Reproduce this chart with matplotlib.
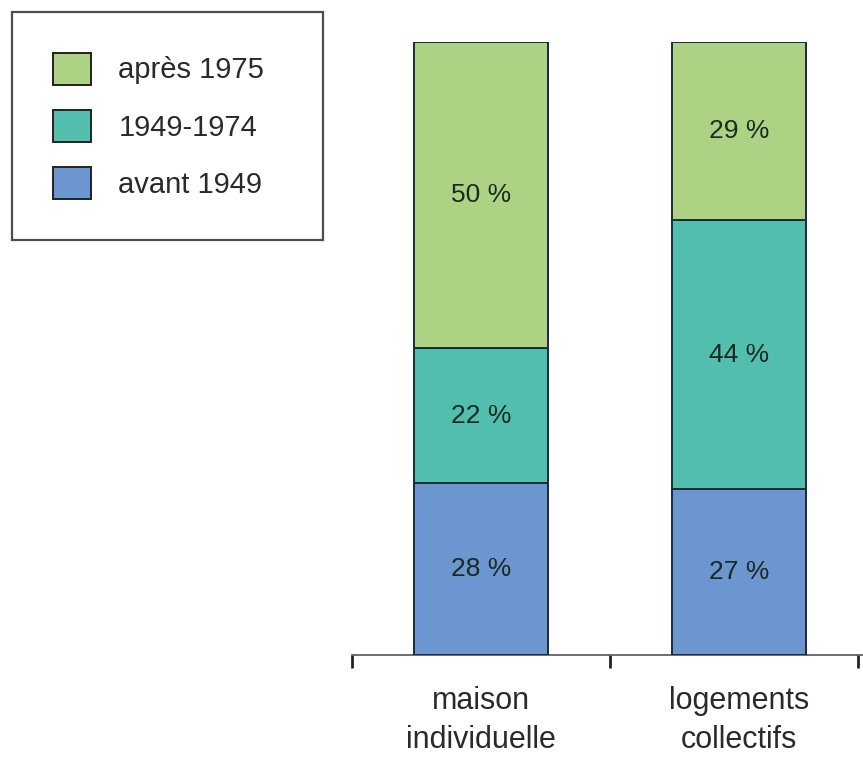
import matplotlib
matplotlib.use("Agg")
import matplotlib.pyplot as plt
from matplotlib.patches import Patch

# data
categories = ["maison\nindividuelle", "logements\ncollectifs"]
periods = ["avant 1949", "1949-1974", "après 1975"]
avant_1949 = [28, 27]
p1949_1974 = [22, 44]
apres_1975 = [50, 29]
colors = ["#6b96d0", "#52bfae", "#aed283"]

plt.rcParams["font.family"] = ["Liberation Sans", "DejaVu Sans"]

fig = plt.figure(figsize=(8.63, 7.62), dpi=100)
ax = fig.add_axes([352 / 863, 1 - 655 / 762, 511 / 863, 613 / 762])

x = [0.5, 1.5]
series = [avant_1949, p1949_1974, apres_1975]
bottom = [0, 0]
for vals, col in zip(series, colors):
    bars = ax.bar(x, vals, width=0.516, bottom=bottom, color=col,
                  edgecolor="#1c2b38", linewidth=1.4, zorder=3)
    for b, v in zip(bars, vals):
        ax.text(b.get_x() + b.get_width() / 2, b.get_y() + b.get_height() / 2,
                f"{v} %", ha="center", va="center", fontsize=19,
                color="#1a2a22", zorder=4)
    bottom = [a + b for a, b in zip(bottom, vals)]

ax.set_xlim(0, 511 / 258)
ax.set_ylim(0, 100)
for s in ["top", "right", "left"]:
    ax.spines[s].set_visible(False)
ax.spines["bottom"].set_color("#555555")
ax.spines["bottom"].set_linewidth(1.2)
ax.set_yticks([])

ax.set_xticks([0, 1, 1.96])
ax.set_xticklabels([])
ax.tick_params(axis="x", which="major", length=9, width=2, color="#222222")
ax.set_xticks(x, minor=True)
ax.set_xticklabels(categories, minor=True, fontsize=22, color="#2a2a2a",
                   linespacing=1.4)
ax.tick_params(axis="x", which="minor", length=0, pad=22)

handles = [Patch(facecolor=c, edgecolor="#222222", linewidth=1.4)
           for c in colors[::-1]]
leg = fig.legend(handles, periods[::-1], loc="upper left",
                 bbox_to_anchor=(12 / 863, 1 - 240 / 762, 311 / 863, 228 / 762),
                 mode="expand", borderaxespad=0,
                 fontsize=21, frameon=True, fancybox=False,
                 handlelength=1.3, handleheight=1.3, handletextpad=0.95,
                 labelspacing=0.87, borderpad=1.4)
leg.get_frame().set_edgecolor("#222222")
leg.get_frame().set_linewidth(1.6)
for t in leg.get_texts():
    t.set_color("#2a2a2a")

fig.savefig("out.png", dpi=100)
plt.close(fig)
